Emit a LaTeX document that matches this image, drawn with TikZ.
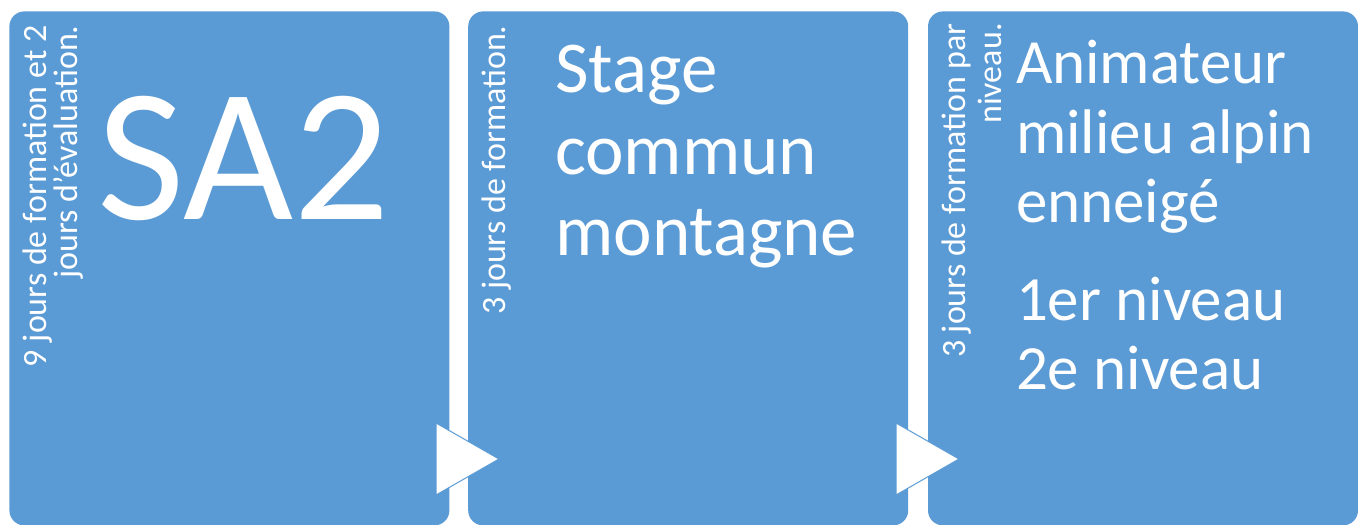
\documentclass[tikz,border=0pt]{standalone}
\usepackage{fontspec}
\setmainfont{Carlito}
\usetikzlibrary{positioning}

\definecolor{boxblue}{HTML}{5B9BD5}

\tikzset{
  block/.style={fill=boxblue, rounded corners=7.5pt, inner sep=0,
    minimum width=220pt, minimum height=257pt, anchor=north west},
  side/.style={rotate=90, anchor=north east, align=right, text=white,
    inner sep=0},
  title/.style={anchor=north west, align=left, text=white, inner sep=0},
  pointer/.style={fill=white, draw=boxblue, line width=0.5pt}
}

\begin{document}
\begin{tikzpicture}[x=0.5pt, y=-0.5pt]
  \useasboundingbox (0,0) rectangle (1358,524);
  \clip (0,0) rectangle (1358,524);

  % the three stages
  \node[block] (box1) at (9,11) {};
  \node[block] (box2) [right=9pt of box1] {};
  \node[block, minimum width=215pt] (box3) [right=9.5pt of box2] {};

  % triangles between the stages
  \filldraw[pointer] (436,423) -- (499,459) -- (436,495) -- cycle;
  \filldraw[pointer] (896,423) -- (959,459) -- (896,495) -- cycle;

  % durations
  \node[side, font=\fontsize{17}{15.5}\selectfont] (dur1)
    at ([shift={(13,14)}]box1.north west) {9 jours de formation et 2\\jours d'évaluation.};
  \node[side, font=\fontsize{17}{18}\selectfont] (dur2)
    at ([shift={(14,14)}]box2.north west) {3 jours de formation.};
  \node[side, font=\fontsize{17}{18}\selectfont] (dur3)
    at ([shift={(14,12)}]box3.north west) {3 jours de formation par\\niveau.};

  % titles
  \node[title, font=\fontsize{95}{100}\selectfont] (name1)
    at ([shift={(88,85)}]box1.north west) {SA2};
  \node[title, font=\fontsize{36.5}{40.75}\selectfont] (name2)
    at ([shift={(87,34)}]box2.north west) {Stage\\commun\\montagne};
  \node[title, font=\fontsize{31.5}{34.75}\selectfont] (name3)
    at ([shift={(88,29)}]box3.north west) {Animateur\\milieu alpin\\enneigé\\[14pt]1er niveau\\2e niveau};
\end{tikzpicture}
\end{document}
